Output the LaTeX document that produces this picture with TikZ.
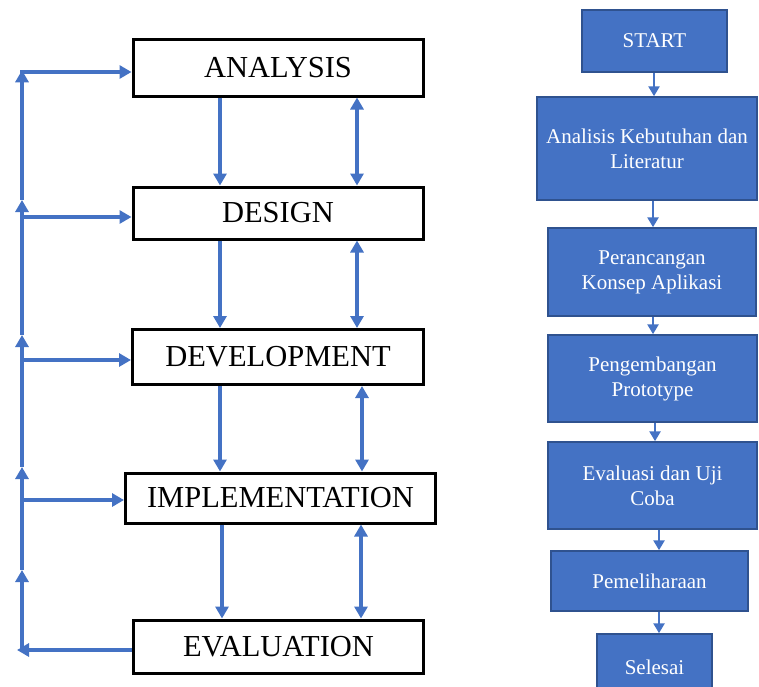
\documentclass[tikz,border=0pt]{standalone}
\usepackage{fontspec}
\setmainfont{Liberation Serif}
\usetikzlibrary{arrows.meta}
\definecolor{obl}{HTML}{4472C4}
\definecolor{obd}{HTML}{2F528F}
\tikzset{
  lbox/.style={draw=black, line width=3pt, fill=white, inner sep=0pt,
    font=\fontsize{30.5}{36}\selectfont},
  fbox/.style={draw=obd, line width=1.5pt, fill=obl, text=white, align=center,
    inner sep=0pt, font=\fontsize{21}{25}\selectfont},
  larr/.style={draw=obl, line width=3.5pt, -{Triangle[length=12pt,width=13pt]}},
  ldarr/.style={draw=obl, line width=3.5pt,
    {Triangle[length=12pt,width=13pt]}-{Triangle[length=12pt,width=13pt]}},
  farr/.style={draw=obl, line width=2.5pt, -{Triangle[length=10pt,width=11pt]}},
}
\begin{document}
\begin{tikzpicture}[x=1pt,y=-1pt]
\useasboundingbox[fill=white] (0,0) rectangle (759,686);

% left boxes
\node[lbox, minimum width=290pt, minimum height=57pt] (an) at (278,67.5) {ANALYSIS};
\node[lbox, minimum width=290pt, minimum height=52pt] (de) at (278,213) {DESIGN};
\node[lbox, minimum width=291pt, minimum height=55pt] (dv) at (278,357) {DEVELOPMENT};
\node[lbox, minimum width=310pt, minimum height=50pt] (im) at (280.5,498) {IMPLEMENTATION};
\node[lbox, minimum width=290pt, minimum height=53pt] (ev) at (278.5,646.5) {EVALUATION};

% column coordinates
\coordinate (xa) at (220,0);
\coordinate (xb) at (222,0);
\coordinate (ya) at (357,0);
\coordinate (yb) at (362,0);
\coordinate (yc) at (361,0);

% down arrows
\draw[larr] (an.south -| xa) -- (de.north -| xa);
\draw[larr] (de.south -| xa) -- (dv.north -| xa);
\draw[larr] (dv.south -| xa) -- (im.north -| xa);
\draw[larr] (im.south -| xb) -- (ev.north -| xb);
% double arrows
\draw[ldarr] (an.south -| ya) -- (de.north -| ya);
\draw[ldarr] (de.south -| ya) -- (dv.north -| ya);
\draw[ldarr] (dv.south -| yb) -- (im.north -| yb);
\draw[ldarr] (im.south -| yc) -- (ev.north -| yc);

% feedback loop on the left
\coordinate (v0) at (22,650);
\coordinate (v1) at (22,570);
\coordinate (v2) at (22,467);
\coordinate (v3) at (22,335);
\coordinate (v4) at (22,200);
\coordinate (v5) at (22,72);
\coordinate (h2) at (22,217);
\coordinate (h3) at (22,360);
\coordinate (h4) at (22,500);
\coordinate (e0) at (17,650);

\draw[larr] (ev.west |- v0) -- (e0);
\draw[larr] ([yshift=1.75pt]v0) -- (v1);
\draw[larr] (v1) -- (v2);
\draw[larr] (v2) -- (v3);
\draw[larr] (v3) -- (v4);
\draw[larr] (v4) -- ([yshift=1.75pt]v5);
\draw[larr] ([xshift=-1.75pt]v5) -- (v5 -| an.west);
\draw[larr] (h2) -- (h2 -| de.west);
\draw[larr] (h3) -- (h3 -| dv.west);
\draw[larr] (h4) -- (h4 -| im.west);

% right flowchart
\node[fbox, minimum width=145pt, minimum height=62pt] (st) at (654.5,41) {START};
\node[fbox, minimum width=220pt, minimum height=103pt] (ak) at (647,148.5) {Analisis Kebutuhan dan\\Literatur};
\node[fbox, minimum width=208pt, minimum height=88pt] (pr) at (652,272) {Perancangan\\Konsep Aplikasi};
\node[fbox, minimum width=209pt, minimum height=87pt] (pg) at (652.5,378.5) {Pengembangan\\Prototype};
\node[fbox, minimum width=209pt, minimum height=87pt] (eu) at (652.5,485.5) {Evaluasi dan Uji\\Coba};
\node[fbox, minimum width=197pt, minimum height=60pt] (pm) at (649.5,581) {Pemeliharaan};
\node[fbox, minimum width=115pt, minimum height=66pt] (se) at (654.5,667) {Selesai};

\coordinate (xr1) at (654,0);
\coordinate (xr2) at (653,0);
\coordinate (xr3) at (655,0);
\coordinate (xr4) at (659,0);
\draw[farr] (st.south -| xr1) -- (ak.north -| xr1);
\draw[farr] (ak.south -| xr2) -- (pr.north -| xr2);
\draw[farr] (pr.south -| xr2) -- (pg.north -| xr2);
\draw[farr] (pg.south -| xr3) -- (eu.north -| xr3);
\draw[farr] (eu.south -| xr4) -- (pm.north -| xr4);
\draw[farr] (pm.south -| xr4) -- (se.north -| xr4);
\end{tikzpicture}
\end{document}
